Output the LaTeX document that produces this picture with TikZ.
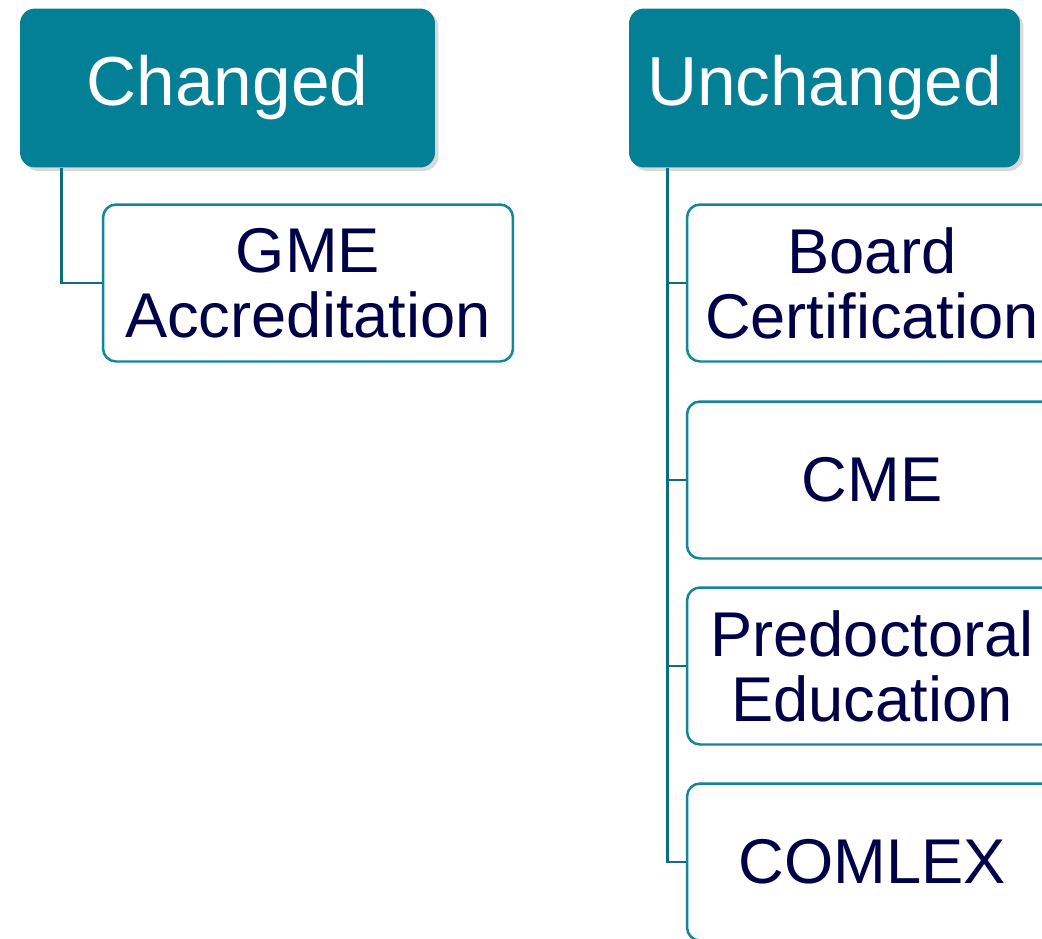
\documentclass[tikz,border=0pt]{standalone}
\usepackage{fontspec}
\setmainfont{Liberation Sans}
\usetikzlibrary{shadows,calc}
\definecolor{headteal}{RGB}{3,127,150}
\definecolor{lineteal}{RGB}{14,110,128}
\definecolor{boxteal}{RGB}{18,134,152}
\definecolor{navytext}{RGB}{0,0,72}

\begin{document}
\begin{tikzpicture}[x=0.02cm,y=-0.02cm]
\tikzstyle{headbox}=[rectangle, rounded corners=0.3cm, fill=headteal, text=white, inner sep=0pt, minimum height=3.18cm, font=\fontsize{39.5}{40}\selectfont, drop shadow={shadow xshift=0.07cm, shadow yshift=-0.07cm, opacity=0.25, fill=black!60}]
\tikzstyle{leafbox}=[rectangle, rounded corners=0.26cm, draw=boxteal, line width=1.4pt, fill=white, text=navytext, inner sep=0pt, minimum height=3.14cm, align=center, font=\fontsize{36}{37}\selectfont]
\tikzstyle{branch}=[draw=lineteal, line width=1.4pt]
\useasboundingbox (0,0) rectangle (1042,938);
\clip (0,0) rectangle (1042,938);
\node [headbox, minimum width=8.3cm] (changed) at (227.5,88) {Changed};
\node [headbox, minimum width=7.82cm] (unchanged) at (824.5,88) {Unchanged};
\node [leafbox, minimum width=8.2cm] (gme) at (308,283) {GME\\Accreditation};
\node [leafbox, minimum width=7.4cm] (board) at (872,283) {Board\\Certification};
\node [leafbox, minimum width=7.4cm] (cme) at (872,480) {CME};
\node [leafbox, minimum width=7.4cm] (predoc) at (872,666) {Predoctoral\\Education};
\node [leafbox, minimum width=7.4cm] (comlex) at (872,862) {COMLEX};
\draw [branch] ($(changed.south west)+(42,0)$) |- (gme.west);
\foreach \leaf in {board,cme,predoc,comlex}
  \draw [branch] ($(unchanged.south west)+(39,0)$) |- (\leaf.west);
\end{tikzpicture}
\end{document}
